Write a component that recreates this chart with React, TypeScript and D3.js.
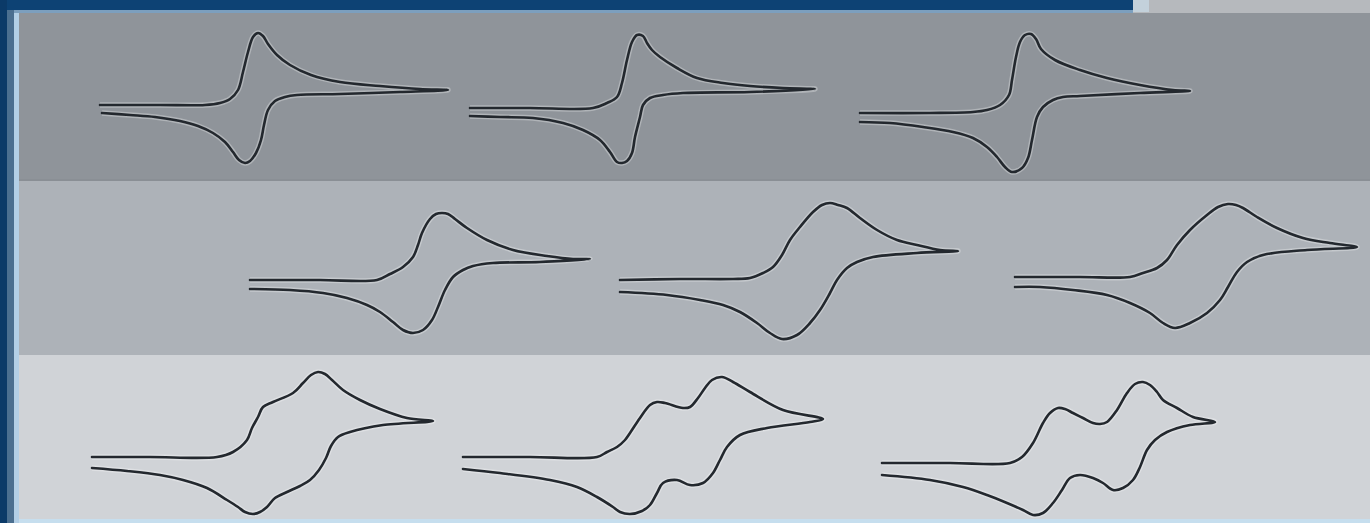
import * as d3 from "d3";

// Cyclic voltammograms, [E (mV vs. column centre), i (µA)].
// Each trace: forward (anodic) sweep to the switching potential, then the reverse sweep back.
const cvTop1: [number, number][] = [
  [-290, -8], [-170, -8], [-80, -8], [-50, -6], [-30, -2], [-14, 7], [-4, 25], [6, 45], [16, 60],
  [26, 64], [36, 61], [46, 53], [64, 42], [90, 32], [132, 22], [190, 15], [270, 11], [350, 8], [406, 7],
  [310, 5], [190, 3], [104, 2], [80, 0], [60, -4], [46, -13], [38, -28], [32, -43], [22, -56], [10, -64],
  [0, -66], [-12, -63], [-24, -55], [-40, -45], [-64, -36], [-94, -29], [-130, -24], [-180, -20],
  [-230, -18], [-286, -16],
];

const cvTop2: [number, number][] = [
  [-450, -11], [-330, -11], [-204, -11], [-176, -6], [-156, 0], [-146, 14], [-136, 37], [-126, 55],
  [-116, 62], [-104, 61], [-96, 54], [-86, 47], [-70, 40], [-36, 29], [4, 19], [56, 14], [110, 11],
  [176, 9], [240, 8],
  [110, 5], [-24, 4], [-64, 2], [-90, -1], [-104, -8], [-110, -20], [-120, -40], [-126, -56], [-136, -64],
  [-146, -66], [-156, -65], [-170, -55], [-190, -43], [-224, -33], [-264, -26], [-324, -21], [-390, -20],
  [-450, -19],
];

const cvTop3: [number, number][] = [
  [-570, -16], [-430, -16], [-344, -15], [-316, -13], [-290, -8], [-272, 2], [-266, 17], [-258, 40],
  [-250, 55], [-240, 62], [-228, 63], [-218, 58], [-208, 48], [-180, 37], [-130, 27], [-76, 19],
  [-10, 12], [56, 7], [90, 6],
  [-10, 4], [-130, 1], [-164, 0], [-184, -3], [-204, -10], [-216, -20], [-226, -43], [-234, -61],
  [-246, -71], [-266, -75], [-280, -70], [-296, -60], [-316, -50], [-344, -41], [-384, -35], [-444, -30],
  [-510, -26], [-570, -25],
];

const cvMid1: [number, number][] = [
  [10, -12], [150, -12], [264, -12], [290, -6], [316, 1], [336, 11], [346, 23], [354, 35], [370, 49],
  [382, 54], [394, 55], [406, 54], [420, 49], [444, 40], [484, 28], [536, 18], [604, 12], [656, 9],
  [690, 9],
  [590, 6], [496, 5], [456, 2], [436, -2], [416, -9], [400, -22], [386, -39], [374, -52], [356, -62],
  [336, -65], [316, -62], [296, -54], [270, -44], [244, -37], [204, -30], [156, -25], [90, -22], [10, -21],
];

const cvMid2: [number, number][] = [
  [-150, -12], [-30, -11], [76, -11], [110, -10], [136, -5], [156, 1], [174, 13], [190, 28], [210, 41],
  [236, 56], [254, 63], [270, 65], [286, 63], [304, 60], [330, 50], [364, 38], [404, 28], [444, 23],
  [490, 18], [526, 17],
  [444, 15], [356, 11], [324, 6], [304, 0], [284, -12], [270, -25], [250, -42], [230, -55], [204, -67],
  [174, -71], [150, -65], [124, -55], [90, -44], [56, -37], [10, -32], [-56, -27], [-150, -24],
];

const cvMid3: [number, number][] = [
  [-260, -9], [-130, -9], [-30, -9], [-4, -5], [24, 0], [44, 8], [64, 23], [90, 38], [124, 53],
  [146, 61], [166, 64], [182, 63], [196, 60], [224, 51], [264, 40], [316, 30], [370, 25], [424, 21],
  [324, 18], [236, 13], [204, 6], [184, -4], [166, -19], [150, -32], [124, -45], [90, -55], [60, -60],
  [36, -55], [10, -45], [-30, -35], [-76, -27], [-144, -22], [-210, -19], [-260, -19],
];

const cvBot1: [number, number][] = [
  [-306, -20], [-190, -20], [-56, -20], [-24, -15], [4, -3], [14, 9], [26, 20], [36, 30], [56, 35],
  [96, 44], [116, 54], [132, 62], [146, 65], [160, 63], [174, 57], [196, 47], [230, 37], [270, 28],
  [324, 19], [376, 16],
  [276, 12], [210, 5], [186, 0], [172, -9], [162, -21], [148, -33], [130, -43], [110, -49], [84, -55],
  [60, -61], [44, -70], [30, -75], [16, -77], [0, -75], [-14, -70], [-36, -63], [-76, -51], [-124, -43],
  [-170, -38], [-236, -34], [-306, -31],
];

const cvBot2: [number, number][] = [
  [-464, -20], [-330, -20], [-196, -20], [-176, -15], [-156, -10], [-140, -3], [-130, 4], [-110, 19],
  [-90, 32], [-76, 35], [-60, 34], [-24, 29], [-10, 30], [6, 39], [20, 49], [34, 57], [54, 60], [76, 55],
  [110, 45], [176, 27], [256, 18],
  [230, 15], [144, 9], [90, 2], [64, -10], [50, -23], [36, -36], [16, -46], [-10, -48], [-36, -43],
  [-64, -46], [-76, -56], [-90, -68], [-106, -74], [-130, -77], [-150, -75], [-164, -70], [-196, -60],
  [-236, -50], [-290, -43], [-390, -36], [-464, -32],
];

const cvBot3: [number, number][] = [
  [-526, -26], [-390, -26], [-270, -26], [-246, -20], [-224, -6], [-204, 14], [-190, 24], [-174, 29],
  [-160, 28], [-144, 24], [-124, 19], [-104, 14], [-90, 13], [-76, 15], [-56, 27], [-36, 44], [-20, 53],
  [-4, 55], [10, 52], [24, 45], [36, 37], [64, 29], [96, 20], [140, 15],
  [90, 12], [44, 5], [20, -3], [4, -13], [-10, -30], [-24, -43], [-44, -51], [-64, -53], [-84, -46],
  [-104, -41], [-130, -38], [-150, -41], [-166, -53], [-184, -66], [-204, -76], [-224, -78], [-244, -73],
  [-276, -66], [-316, -58], [-364, -50], [-430, -43], [-526, -38],
];

const rows = [
  [cvTop1, cvTop2, cvTop3],
  [cvMid1, cvMid2, cvMid3],
  [cvBot1, cvBot2, cvBot3],
];
const columns = [0, 1, 2];

const width = 1370;
const height = 523;
const bandEdges = [13, 181, 355, 519];
const bandFills = ["#8f949a", "#adb2b8", "#d0d3d7"];

export default function App() {
  const colScale = d3.scaleBand<number>().domain(columns).range([20, width]);
  const xScale = d3.scaleLinear().domain([-700, 700]).range([-350, 350]);
  const yScale = d3.scaleLinear().domain([-90, 90]).range([90, -90]);
  const line = d3
    .line<[number, number]>()
    .x((d) => xScale(d[0]))
    .y((d) => yScale(d[1]))
    .curve(d3.curveCatmullRom.alpha(0.5));

  return (
    <svg
      width={width}
      height={height}
      viewBox={`0 0 ${width} ${height}`}
      style={{ position: "absolute", left: 0, top: 0, display: "block" }}
    >
      <rect x={0} y={0} width={width} height={height} fill="#b6b9bd" />

      {bandFills.map((fill, r) => (
        <rect key={`band-${r}`} x={0} y={bandEdges[r]} width={width} height={bandEdges[r + 1] - bandEdges[r]} fill={fill} />
      ))}
      <rect x={0} y={bandEdges[3]} width={width} height={height - bandEdges[3]} fill="#c6deee" />
      <rect x={0} y={bandEdges[1] - 2} width={width} height={2} fill="#878c92" opacity={0.6} />

      {/* frame */}
      <rect x={0} y={0} width={1133} height={10} fill="#0d4274" />
      <rect x={0} y={10} width={1133} height={3} fill="#7c9fbe" />
      <rect x={1133} y={0} width={16} height={12} fill="#c9dbe8" opacity={0.7} />
      <rect x={0} y={0} width={7} height={height} fill="#0b3a68" />
      <rect x={7} y={10} width={7} height={height - 10} fill="#4b6f90" />
      <rect x={14} y={13} width={5} height={height - 13} fill="#b3cfe6" />

      {rows.map((traces, r) => {
        const cy = (bandEdges[r] + bandEdges[r + 1]) / 2;
        return traces.map((points, c) => (
          <g key={`cv-${r}-${c}`} transform={`translate(${(colScale(c) ?? 0) + colScale.bandwidth() / 2}, ${cy})`}>
            <path d={line(points) ?? ""} fill="none" stroke="#ffffff" strokeOpacity={0.3} strokeWidth={5.5} strokeLinejoin="round" />
            <path d={line(points) ?? ""} fill="none" stroke="#23282e" strokeWidth={2.6} strokeLinejoin="round" strokeLinecap="round" />
          </g>
        ));
      })}
    </svg>
  );
}
